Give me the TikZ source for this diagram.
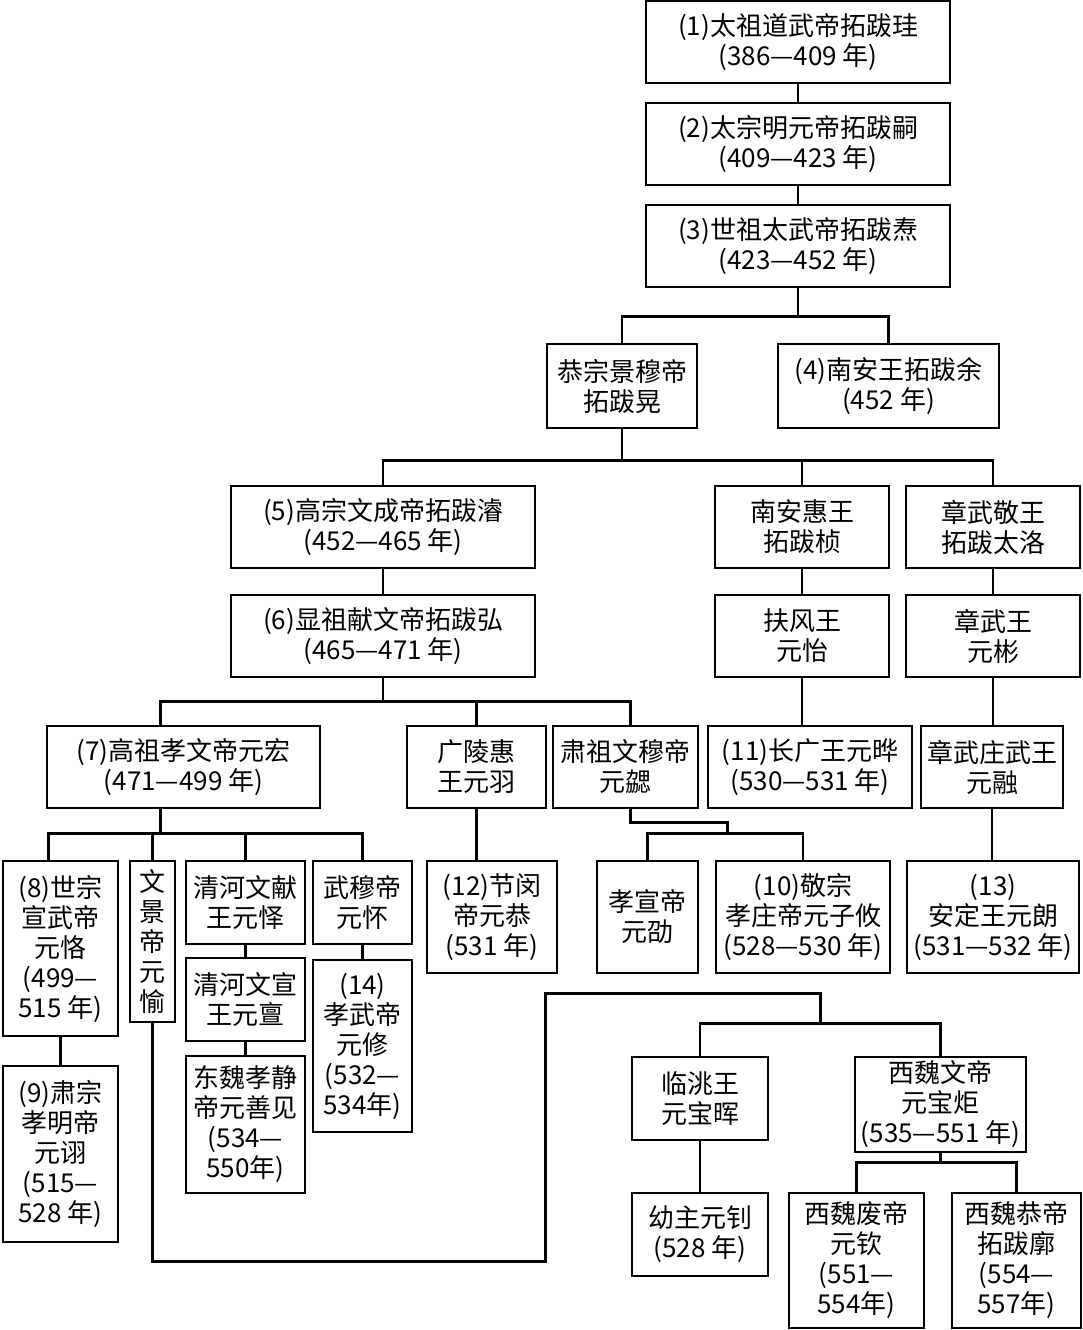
\documentclass[tikz,border=0pt]{standalone}
\usepackage{fontspec}
\setmainfont{Noto Sans CJK SC}
\usetikzlibrary{calc}

\begin{document}
\begin{tikzpicture}[x=1pt,y=-1pt,line width=2.8pt,
    box/.style 2 args={draw,align=center,inner sep=0pt,
      minimum width=#1pt,minimum height=#2pt,
      font=\fontsize{26}{30}\selectfont}]
    \useasboundingbox (0,0) rectangle (1082,1330);

    % first generations
    \node[box={304}{82}] (t1) at (798,42) {(1)太祖道武帝拓跋珪\\(386—409 年)};
    \node[box={304}{82}] (t2) at (798,144) {(2)太宗明元帝拓跋嗣\\(409—423 年)};
    \node[box={304}{82}] (t3) at (798,246) {(3)世祖太武帝拓跋焘\\(423—452 年)};
    \node[box={150}{84}] (jing) at (622,386) {恭宗景穆帝\\拓跋晃};
    \node[box={221}{84}] (t4) at (888.5,386) {(4)南安王拓跋余\\(452 年)};
    \node[box={304}{82}] (t5) at (383,527) {(5)高宗文成帝拓跋濬\\(452—465 年)};
    \node[box={174}{82}] (zhen) at (802,527) {南安惠王\\拓跋桢};
    \node[box={174}{82}] (luo) at (993,527) {章武敬王\\拓跋太洛};
    \node[box={304}{82}] (t6) at (383,636) {(6)显祖献文帝拓跋弘\\(465—471 年)};
    \node[box={174}{82}] (yi) at (802,636) {扶风王\\元怡};
    \node[box={174}{82}] (bin) at (993,636) {章武王\\元彬};

    % sons of t6 and cousins
    \node[box={273}{82}] (t7) at (183.5,767) {(7)高祖孝文帝元宏\\(471—499 年)};
    \node[box={139}{82}] (yu) at (476.5,767) {广陵惠\\王元羽};
    \node[box={145}{82}] (xie) at (625.5,767) {肃祖文穆帝\\元勰};
    \node[box={204}{82}] (t11) at (810,767) {(11)长广王元晔\\(530—531 年)};
    \node[box={142}{82}] (rong) at (992,767) {章武庄武王\\元融};

    % sons of t7
    \node[box={115}{175}] (t8) at (60.5,948.5) {(8)世宗\\宣武帝\\元恪\\(499—\\515 年)};
    \node[box={45}{161}] (yuu) at (152.5,941.5) {文\\景\\帝\\元\\愉};
    \node[box={119}{83}] (yii) at (245.5,902.5) {清河文献\\王元怿};
    \node[box={99}{83}] (huai) at (362.5,902.5) {武穆帝\\元怀};
    \node[box={119}{83}] (dan) at (245.5,999.5) {清河文宣\\王元亶};
    \node[box={119}{137}] (shanjian) at (245.5,1124.5) {东魏孝静\\帝元善见\\(534—\\550年)};
    \node[box={99}{172}] (t14) at (362.5,1046) {(14)\\孝武帝\\元修\\(532—\\534年)};
    \node[box={115}{176}] (t9) at (60.5,1154) {(9)肃宗\\孝明帝\\元诩\\(515—\\528 年)};

    % next row on the right
    \node[box={130}{112}] (t12) at (492,917) {(12)节闵\\帝元恭\\(531 年)};
    \node[box={101}{112}] (shao) at (647.5,917) {孝宣帝\\元劭};
    \node[box={174}{112}] (t10) at (803,917) {(10)敬宗\\孝庄帝元子攸\\(528—530 年)};
    \node[box={172}{112}] (t13) at (993,917) {(13)\\安定王元朗\\(531—532 年)};

    % western wei
    \node[box={136}{83}] (hui) at (700,1098.5) {临洮王\\元宝晖};
    \node[box={171}{95}] (ju) at (940.5,1104.5) {西魏文帝\\元宝炬\\(535—551 年)};
    \node[box={136}{83}] (zhao) at (700,1234.5) {幼主元钊\\(528 年)};
    \node[box={135}{135}] (qin) at (856.5,1260.5) {西魏废帝\\元钦\\(551—\\554年)};
    \node[box={129}{135}] (kuo) at (1016.5,1260.5) {西魏恭帝\\拓跋廓\\(554—\\557年)};

    \path (t1)          edge (t2)
          (t2)          edge (t3)
          (t5)          edge (t6)
          (zhen)        edge (yi)
          (luo)         edge (bin)
          (t8)          edge (t9)
          (yii)         edge (dan)
          (dan)         edge (shanjian)
          (huai)        edge (t14)
          (hui)         edge (zhao)
          (yi.south)    edge (yi.south |- t11.north)
          (bin.south)   edge (bin.south |- rong.north)
          (rong.south)  edge (rong.south |- t13.north)
          (yu.south)    edge (yu.south |- t12.north);

    \draw (t3.south) -- ++(0,28) coordinate (b3);
    \draw (jing.north) |- (b3) -| (t4.north);

    \draw (jing.south) -- ++(0,31) coordinate (b4);
    \draw (t5.north) |- (b4) -| (luo.north);
    \draw (b4 -| zhen) -- (zhen.north);

    \draw (t6.south) -- ++(0,23) coordinate (b6);
    \draw ($(t7.north)+(-23,0)$) |- (b6) -| ($(xie.north)+(5,0)$);
    \draw (b6 -| yu) -- (yu.north);

    \draw ($(t7.south)+(-23,0)$) -- ++(0,24) coordinate (b7);
    \draw ($(t8.north)+(-12,0)$) |- (b7) -| (huai.north);
    \draw (b7 -| yuu) -- (yuu.north);
    \draw (b7 -| yii) -- (yii.north);

    \draw ($(xie.south)+(5,0)$) -- ++(0,13) -- ++(97,0) -- ++(0,11) coordinate (b10);
    \draw (shao.north) |- (b10) -| (t10.north);

    \draw (yuu.south) -- ++(0,238) -| ++(393,-268) -| ++(275,30) coordinate (b11);
    \draw (hui.north) |- (b11) -| (ju.north);

    \draw (ju.south) -- ++(0,9) coordinate (b12);
    \draw (qin.north) |- (b12) -| (kuo.north);
\end{tikzpicture}
\end{document}
